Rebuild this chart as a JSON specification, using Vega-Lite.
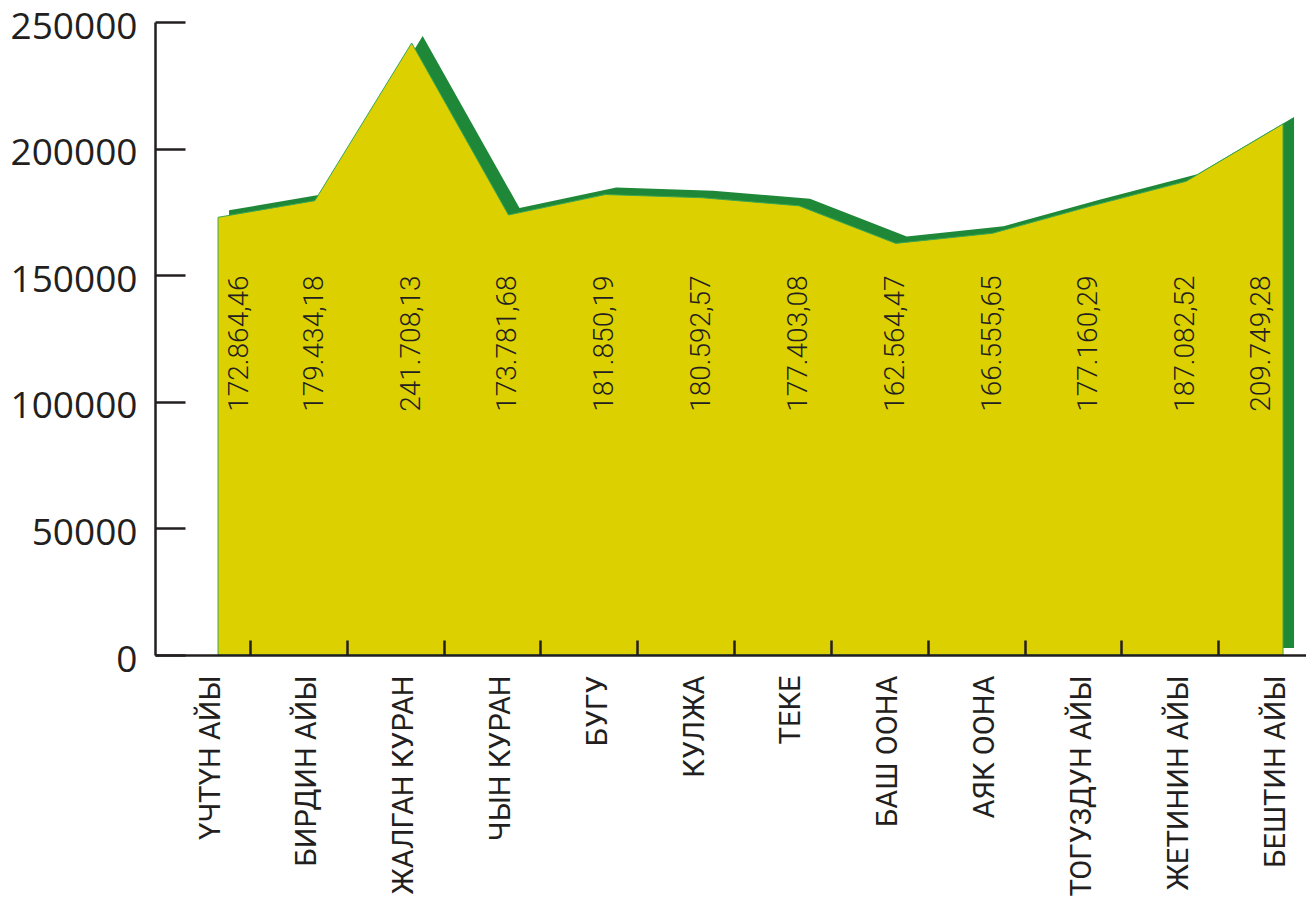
{
  "$schema": "https://vega.github.io/schema/vega-lite/v6.json",
  "width": 1151,
  "height": 633,
  "autosize": {"type": "none"},
  "padding": {"left": 155, "top": 22, "right": 0, "bottom": 244},
  "background": "white",
  "config": {
    "view": {"stroke": null},
    "locale": {"number": {"decimal": ",", "thousands": ".", "grouping": [3], "currency": ["", ""]}}
  },
  "data": {
    "values": [
      {"month": "ҮЧТҮН АЙЫ", "value": 172864.46},
      {"month": "БИРДИН АЙЫ", "value": 179434.18},
      {"month": "ЖАЛГАН КУРАН", "value": 241708.13},
      {"month": "ЧЫН КУРАН", "value": 173781.68},
      {"month": "БУГУ", "value": 181850.19},
      {"month": "КУЛЖА", "value": 180592.57},
      {"month": "ТЕКЕ", "value": 177403.08},
      {"month": "БАШ ООНА", "value": 162564.47},
      {"month": "АЯК ООНА", "value": 166555.65},
      {"month": "ТОГУЗДУН АЙЫ", "value": 177160.29},
      {"month": "ЖЕТИНИН АЙЫ", "value": 187082.52},
      {"month": "БЕШТИН АЙЫ", "value": 209749.28}
    ]
  },
  "encoding": {
    "x": {
      "field": "month",
      "type": "nominal",
      "sort": null,
      "scale": {"type": "point", "padding": 0.444, "align": 0.733},
      "axis": {
        "title": null,
        "zindex": 1,
        "domainColor": "#231F20",
        "domainWidth": 2.5,
        "tickColor": "#231F20",
        "tickWidth": 2.5,
        "tickSize": -15,
        "tickOffset": 32,
        "labelOffset": -40,
        "labelAngle": -90,
        "labelAlign": "right",
        "labelBaseline": "middle",
        "labelPadding": 35,
        "labelLimit": 0,
        "labelFont": "Roboto",
        "labelFontSize": 29,
        "labelColor": "#231F20",
        "grid": false
      }
    }
  },
  "layer": [
    {
      "mark": {"type": "area", "color": "#1F8838", "xOffset": 11, "yOffset": -7},
      "encoding": {
        "y": {
          "field": "value",
          "type": "quantitative",
          "scale": {"domain": [0, 250000], "nice": false, "zero": true},
          "axis": {
            "title": null,
            "zindex": 1,
            "values": [0, 50000, 100000, 150000, 200000, 250000],
            "format": "d",
            "domainColor": "#231F20",
            "domainWidth": 2.5,
            "tickColor": "#231F20",
            "tickWidth": 2.5,
            "tickSize": -30,
            "labelPadding": 48,
            "labelOffset": 5,
            "labelFont": "Open Sans",
            "labelFontSize": 37,
            "labelColor": "#231F20",
            "grid": false
          }
        }
      }
    },
    {
      "mark": {"type": "area", "color": "#DDD000", "stroke": "#3AA655", "strokeWidth": 1},
      "encoding": {"y": {"field": "value", "type": "quantitative"}}
    },
    {
      "transform": [{"filter": "datum.month !== 'ҮЧТҮН АЙЫ' && datum.month !== 'БЕШТИН АЙЫ'"}],
      "mark": {"type": "text", "angle": 270, "align": "center", "baseline": "middle", "font": "Roboto", "fontSize": 28, "fontWeight": 300, "color": "#231F20"},
      "encoding": {
        "y": {"datum": 123000},
        "text": {"field": "value", "type": "quantitative", "format": ",.2f"}
      }
    },
    {
      "transform": [{"filter": "datum.month === 'ҮЧТҮН АЙЫ'"}],
      "mark": {"type": "text", "angle": 270, "align": "center", "baseline": "middle", "font": "Roboto", "fontSize": 28, "fontWeight": 300, "color": "#231F20", "dy": 22},
      "encoding": {
        "y": {"datum": 123000},
        "text": {"field": "value", "type": "quantitative", "format": ",.2f"}
      }
    },
    {
      "transform": [{"filter": "datum.month === 'БЕШТИН АЙЫ'"}],
      "mark": {"type": "text", "angle": 270, "align": "center", "baseline": "middle", "font": "Roboto", "fontSize": 28, "fontWeight": 300, "color": "#231F20", "dy": -21},
      "encoding": {
        "y": {"datum": 123000},
        "text": {"field": "value", "type": "quantitative", "format": ",.2f"}
      }
    }
  ]
}
